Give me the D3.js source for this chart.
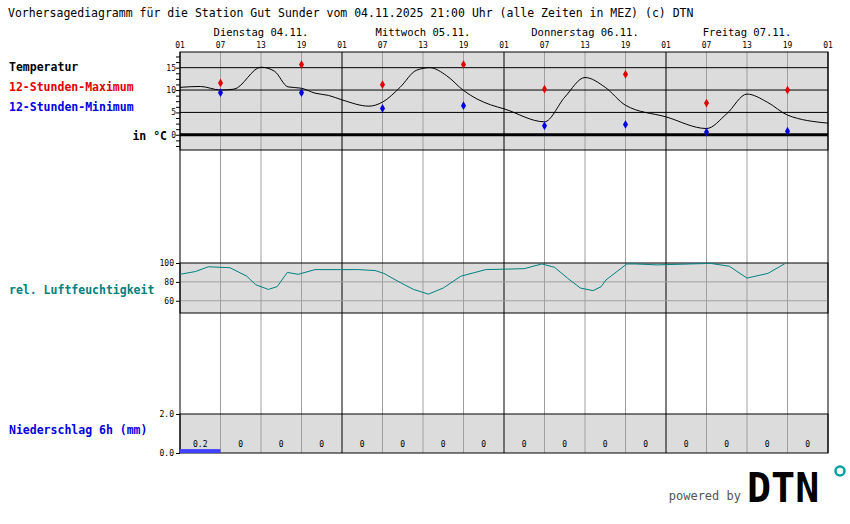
<!DOCTYPE html><html><head><meta charset="utf-8">
<script src="https://cdn.jsdelivr.net/npm/d3@7/dist/d3.min.js"></script>
<style>body{margin:0;background:#fff}text{font-family:"DejaVu Sans Mono",monospace}</style></head><body>
<svg id="c" width="850" height="524"></svg>
<script>
const days=["Dienstag 04.11.","Mittwoch 05.11.","Donnerstag 06.11.","Freitag 07.11."];
const hourLabels=["01","07","13","19"];
const tempH=[0,3,6,8,12,14,16,18,20,22,24,28,30,32.6,35,37,39.5,42,44,46,48,54,57,60,63,66,72,78,81,84,87,90,96];
const tempV=[10.6,10.8,10,10.2,15.1,14.2,10.7,10.4,9.3,8.8,7.8,6.4,7.3,10.6,14.4,15,13.2,9.9,8,6.7,5.8,2.9,8.4,12.8,10.6,6.6,4.0,1.4,4.7,9.1,7.3,4.4,2.6];
const extH=[6,18,30,42,54,66,78,90];
const maxV=[11.6,15.7,11.2,15.7,10.2,13.5,7.1,10];
const minV=[9.4,9.4,5.9,6.5,2.0,2.3,0.6,0.8];
const humH=[0,2.3,4.2,7.4,9.9,11.2,13.1,14.4,15.9,17.5,20,23.8,26.4,28.9,30.2,32.7,34.6,36.8,39,41.6,45.3,51,53.6,55.5,57.4,59.3,61.2,62.4,63.1,66.2,67.5,70.7,78.6,81.4,84,87.1,89.6];
const humV=[88,91,96,95,86,77,72,75,90,88,93,93,93,92,89,79,72,67,73.5,86,93,94,99,95.4,84,73.5,70.7,75,82,99,99,98,99.6,96.5,84,89,99.3];
const humGap=[71,78];
const precipLabels=["0.2","0","0","0","0","0","0","0","0","0","0","0","0","0","0","0"];
const precipV=[0.2,0,0,0,0,0,0,0,0,0,0,0,0,0,0,0];

const svg=d3.select("#c");
const x=d3.scaleLinear().domain([0,96]).range([180,828]);
const yT=d3.scaleLinear().domain([-3.4,18.5]).range([150,52]);
const yH=d3.scaleLinear().domain([47,100]).range([313,263]);
const yP=d3.scaleLinear().domain([0,2]).range([453,414]);

svg.append("text").attr("x",8).attr("y",17).attr("font-size",11.5).text("Vorhersagediagramm für die Station Gut Sunder vom 04.11.2025 21:00 Uhr (alle Zeiten in MEZ)   (c) DTN");
// panels
[[52,150],[263,313],[414,453]].forEach(([a,b])=>svg.append("rect").attr("x",180).attr("y",a).attr("width",648).attr("height",b-a).attr("fill","#dcdcdc"));
// vertical grid
for(let h=0;h<=96;h+=6){
  const day=h%24===0;
  svg.append("line").attr("x1",x(h)).attr("x2",x(h)).attr("y1",52).attr("y2",453).attr("stroke",day?"#000":"#a0a0a0").attr("stroke-width",1);
  svg.append("text").attr("x",x(h)).attr("y",48).attr("text-anchor","middle").attr("font-size",8).text(hourLabels[(h/6)%4]);
}
days.forEach((d,i)=>svg.append("text").attr("x",x(i*24+12)).attr("y",36).attr("text-anchor","middle").attr("font-size",10.5).text(d));
// temp grid
[5,10,15].forEach(v=>svg.append("line").attr("x1",180).attr("x2",828).attr("y1",yT(v)).attr("y2",yT(v)).attr("stroke","#000"));
svg.append("line").attr("x1",180).attr("x2",828).attr("y1",yT(0)).attr("y2",yT(0)).attr("stroke","#000").attr("stroke-width",3);
[80,60].forEach(v=>svg.append("line").attr("x1",180).attr("x2",828).attr("y1",yH(v)).attr("y2",yH(v)).attr("stroke","#a0a0a0"));
// axes
svg.append("g").attr("transform","translate(180,0)").call(d3.axisLeft(yT).tickValues(d3.range(-2.5,18,1.25)).tickSize(4).tickFormat("")).call(g=>g.select(".domain").remove());
svg.append("g").attr("transform","translate(180,0)").call(d3.axisLeft(yT).tickValues([0,5,10,15]).tickSize(0).tickPadding(4)).call(g=>g.select(".domain").remove()).selectAll("text").attr("font-size",8).attr("font-family","DejaVu Sans Mono");
svg.append("g").attr("transform","translate(180,0)").call(d3.axisLeft(yH).tickValues([60,80,100]).tickSize(4).tickPadding(2)).call(g=>g.select(".domain").remove()).selectAll("text").attr("font-size",8).attr("font-family","DejaVu Sans Mono");
svg.append("g").attr("transform","translate(180,0)").call(d3.axisLeft(yP).tickValues([0,2]).tickSize(4).tickPadding(2)).call(g=>g.select(".domain").remove()).selectAll("text").attr("font-size",8).attr("font-family","DejaVu Sans Mono");
// borders
[[52,150],[263,313],[414,453]].forEach(([a,b])=>svg.append("rect").attr("x",180).attr("y",a).attr("width",648).attr("height",b-a).attr("fill","none").attr("stroke","#000"));
// temp line
svg.append("path").datum(tempH.map((h,i)=>[h,tempV[i]])).attr("d",d3.line().x(d=>x(d[0])).y(d=>yT(d[1])).curve(d3.curveMonotoneX)).attr("fill","none").attr("stroke","#000").attr("stroke-width",1);
const dia=d3.symbol().type(d3.symbolDiamond).size(22);
extH.forEach((h,i)=>{
  svg.append("path").attr("d",dia()).attr("transform",`translate(${x(h)},${yT(maxV[i])})`).attr("fill","#e00000");
  svg.append("path").attr("d",dia()).attr("transform",`translate(${x(h)},${yT(minV[i])})`).attr("fill","#0000e0");
});
// humidity
svg.append("path").datum(humH.map((h,i)=>[h,humV[i]])).attr("d",d3.line().defined(d=>!(d[0]>humGap[0]&&d[0]<humGap[1])).x(d=>x(d[0])).y(d=>yH(d[1]))).attr("fill","none").attr("stroke","#008080");
// precip
precipV.forEach((v,i)=>{
  if(v>0) svg.append("rect").attr("x",x(i*6)).attr("y",yP(v)).attr("width",x(6)-x(0)).attr("height",yP(0)-yP(v)).attr("fill","#4040ff");
  svg.append("text").attr("x",x(i*6+3)).attr("y",447).attr("text-anchor","middle").attr("font-size",8).text(precipLabels[i]);
});
// left labels
const lab=(t,y,c,a,xx)=>svg.append("text").attr("x",xx||9).attr("y",y).attr("fill",c).attr("font-size",11.5).attr("font-weight","bold").attr("text-anchor",a||"start").text(t);
lab("Temperatur",71,"#000");lab("12-Stunden-Maximum",91,"#e00000");lab("12-Stunden-Minimum",111,"#0000e0");
lab("in °C",140,"#000","end",167);
lab("rel. Luftfeuchtigkeit",294,"#008080");
lab("Niederschlag 6h (mm)",434,"#0000e0");
// logo
svg.append("text").attr("x",741).attr("y",500).attr("text-anchor","end").attr("font-family","Roboto,sans-serif").attr("font-size",12).attr("fill","#555").text("powered by");
svg.append("text").attr("x",747).attr("y",502).attr("font-family","Roboto,sans-serif").attr("font-weight","bold").attr("font-size",40).attr("fill","#000").text("DTN");
svg.append("circle").attr("cx",840).attr("cy",471).attr("r",4.5).attr("fill","none").attr("stroke","#00a0a0").attr("stroke-width",2.5);
</script></body></html>
